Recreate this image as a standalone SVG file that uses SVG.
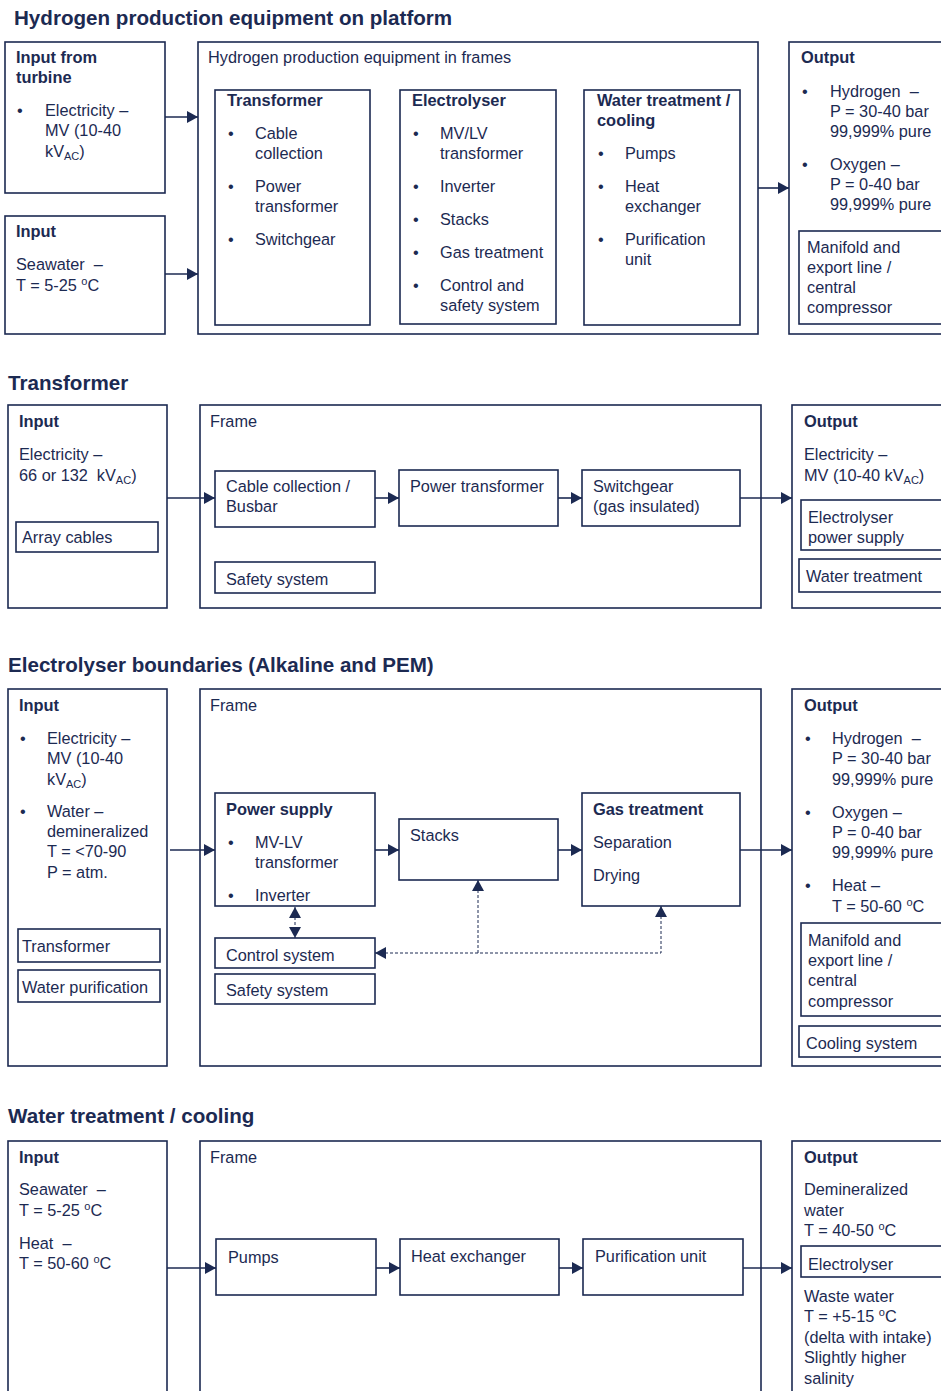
<svg xmlns="http://www.w3.org/2000/svg" width="941" height="1391" viewBox="0 0 941 1391">
<style>
text{font-family:"Liberation Sans",Arial,sans-serif;fill:#1c2a52;font-size:16.3px;white-space:pre}
.t{font-size:20.6px;font-weight:bold}
.b{font-weight:bold;font-size:16.4px}
.box{fill:none;stroke:#1c2a52;stroke-width:1.6}
.c{fill:none;stroke:#1c2a52;stroke-width:1.6}
.d{fill:none;stroke:#1c2a52;stroke-width:1;stroke-dasharray:3 2}
.sub{font-size:11px}
.sup{font-size:11px}
</style>
<defs>
<marker id="ah" markerUnits="userSpaceOnUse" markerWidth="11" markerHeight="12" refX="11" refY="6" orient="auto-start-reverse"><path d="M0,0 L11,6 L0,12 z" fill="#1c2a52"/></marker>
</defs>

<!-- Section 1 -->
<text class="t" x="14" y="25">Hydrogen production equipment on platform</text>
<g id="s1-input-turbine">
<rect class="box" x="5" y="42" width="160" height="151"/>
<text class="b" x="16" y="63">Input from</text>
<text class="b" x="16" y="83">turbine</text>
<text x="17" y="116">•</text>
<text x="45" y="116">Electricity –</text>
<text x="45" y="136">MV (10-40</text>
<text x="45" y="157">kV<tspan class="sub" dy="3">AC</tspan><tspan dy="-3">)</tspan></text>
</g>
<g id="s1-input-seawater">
<rect class="box" x="5" y="216" width="160" height="118"/>
<text class="b" x="16" y="237">Input</text>
<text x="16" y="270">Seawater  –</text>
<text x="16" y="291">T = 5-25 <tspan class="sup" dy="-6">o</tspan><tspan dy="6">C</tspan></text>
</g>
<g id="s1-frame">
<rect class="box" x="198" y="42" width="560" height="292"/>
<text x="208" y="63">Hydrogen production equipment in frames</text>
</g>
<g id="s1-transformer">
<rect class="box" x="215" y="90" width="155" height="235"/>
<text class="b" x="227" y="106">Transformer</text>
<text x="228" y="139">•</text><text x="255" y="139">Cable</text><text x="255" y="159">collection</text>
<text x="228" y="192">•</text><text x="255" y="192">Power</text><text x="255" y="212">transformer</text>
<text x="228" y="245">•</text><text x="255" y="245">Switchgear</text>
</g>
<g id="s1-electrolyser">
<rect class="box" x="400" y="90" width="156" height="234"/>
<text class="b" x="412" y="106">Electrolyser</text>
<text x="413" y="139">•</text><text x="440" y="139">MV/LV</text><text x="440" y="159">transformer</text>
<text x="413" y="192">•</text><text x="440" y="192">Inverter</text>
<text x="413" y="225">•</text><text x="440" y="225">Stacks</text>
<text x="413" y="258">•</text><text x="440" y="258">Gas treatment</text>
<text x="413" y="291">•</text><text x="440" y="291">Control and</text><text x="440" y="311">safety system</text>
</g>
<g id="s1-water">
<rect class="box" x="584" y="90" width="156" height="235"/>
<text class="b" x="597" y="106">Water treatment /</text>
<text class="b" x="597" y="126">cooling</text>
<text x="598" y="159">•</text><text x="625" y="159">Pumps</text>
<text x="598" y="192">•</text><text x="625" y="192">Heat</text><text x="625" y="212">exchanger</text>
<text x="598" y="245">•</text><text x="625" y="245">Purification</text><text x="625" y="265">unit</text>
</g>
<g id="s1-output">
<rect class="box" x="789" y="42" width="160" height="292"/>
<text class="b" x="801" y="63">Output</text>
<text x="802" y="97">•</text><text x="830" y="97">Hydrogen  –</text><text x="830" y="117">P = 30-40 bar</text><text x="830" y="137">99,999% pure</text>
<text x="802" y="170">•</text><text x="830" y="170">Oxygen –</text><text x="830" y="190">P = 0-40 bar</text><text x="830" y="210">99,999% pure</text>
</g>
<g id="s1-manifold">
<rect class="box" x="799" y="231" width="150" height="93"/>
<text x="807" y="253">Manifold and</text><text x="807" y="273">export line /</text><text x="807" y="293">central</text><text x="807" y="313">compressor</text>
</g>

<!-- Section 2 -->
<text class="t" x="8" y="390">Transformer</text>
<g id="s2-input">
<rect class="box" x="8" y="405" width="159" height="203"/>
<text class="b" x="19" y="427">Input</text>
<text x="19" y="460">Electricity –</text>
<text x="19" y="481">66 or 132  kV<tspan class="sub" dy="3">AC</tspan><tspan dy="-3">)</tspan></text>
</g>
<g id="s2-array">
<rect class="box" x="16" y="522" width="142" height="30"/>
<text x="22" y="543">Array cables</text>
</g>
<g id="s2-frame">
<rect class="box" x="200" y="405" width="561" height="203"/>
<text x="210" y="427">Frame</text>
</g>
<g id="s2-cable">
<rect class="box" x="215" y="471" width="160" height="56"/>
<text x="226" y="492">Cable collection /</text><text x="226" y="512">Busbar</text>
</g>
<g id="s2-power">
<rect class="box" x="399" y="470" width="159" height="56"/>
<text x="410" y="492">Power transformer</text>
</g>
<g id="s2-switch">
<rect class="box" x="582" y="470" width="158" height="56"/>
<text x="593" y="492">Switchgear</text><text x="593" y="512">(gas insulated)</text>
</g>
<g id="s2-safety">
<rect class="box" x="215" y="562" width="160" height="31"/>
<text x="226" y="585">Safety system</text>
</g>
<g id="s2-output">
<rect class="box" x="792" y="405" width="160" height="203"/>
<text class="b" x="804" y="427">Output</text>
<text x="804" y="460">Electricity –</text>
<text x="804" y="481">MV (10-40 kV<tspan class="sub" dy="3">AC</tspan><tspan dy="-3">)</tspan></text>
</g>
<g id="s2-elps">
<rect class="box" x="801" y="500" width="150" height="50"/>
<text x="808" y="523">Electrolyser</text><text x="808" y="543">power supply</text>
</g>
<g id="s2-wt">
<rect class="box" x="799" y="559" width="150" height="33"/>
<text x="806" y="582">Water treatment</text>
</g>

<!-- Section 3 -->
<text class="t" x="8" y="672">Electrolyser boundaries (Alkaline and PEM)</text>
<g id="s3-input">
<rect class="box" x="8" y="689" width="159" height="377"/>
<text class="b" x="19" y="711">Input</text>
<text x="20" y="744">•</text><text x="47" y="744">Electricity –</text><text x="47" y="764">MV (10-40</text>
<text x="47" y="785">kV<tspan class="sub" dy="3">AC</tspan><tspan dy="-3">)</tspan></text>
<text x="20" y="817">•</text><text x="47" y="817">Water –</text><text x="47" y="837">demineralized</text><text x="47" y="857">T = &lt;70-90</text><text x="47" y="878">P = atm.</text>
</g>
<g id="s3-transformer">
<rect class="box" x="18" y="929" width="142" height="33"/>
<text x="22" y="952">Transformer</text>
</g>
<g id="s3-waterpur">
<rect class="box" x="18" y="970" width="142" height="32"/>
<text x="22" y="993">Water purification</text>
</g>
<g id="s3-frame">
<rect class="box" x="200" y="689" width="561" height="377"/>
<text x="210" y="711">Frame</text>
</g>
<g id="s3-power">
<rect class="box" x="215" y="793" width="160" height="113"/>
<text class="b" x="226" y="815">Power supply</text>
<text x="228" y="848">•</text><text x="255" y="848">MV-LV</text><text x="255" y="868">transformer</text>
<text x="228" y="901">•</text><text x="255" y="901">Inverter</text>
</g>
<g id="s3-stacks">
<rect class="box" x="399" y="819" width="159" height="61"/>
<text x="410" y="841">Stacks</text>
</g>
<g id="s3-gas">
<rect class="box" x="582" y="793" width="158" height="113"/>
<text class="b" x="593" y="815">Gas treatment</text>
<text x="593" y="848">Separation</text>
<text x="593" y="881">Drying</text>
</g>
<g id="s3-control">
<rect class="box" x="215" y="938" width="160" height="30"/>
<text x="226" y="961">Control system</text>
</g>
<g id="s3-safety">
<rect class="box" x="215" y="974" width="160" height="30"/>
<text x="226" y="996">Safety system</text>
</g>
<g id="s3-output">
<rect class="box" x="792" y="689" width="160" height="377"/>
<text class="b" x="804" y="711">Output</text>
<text x="805" y="744">•</text><text x="832" y="744">Hydrogen  –</text><text x="832" y="764">P = 30-40 bar</text><text x="832" y="785">99,999% pure</text>
<text x="805" y="818">•</text><text x="832" y="818">Oxygen –</text><text x="832" y="838">P = 0-40 bar</text><text x="832" y="858">99,999% pure</text>
<text x="805" y="891">•</text><text x="832" y="891">Heat –</text>
<text x="832" y="912">T = 50-60 <tspan class="sup" dy="-6">o</tspan><tspan dy="6">C</tspan></text>
</g>
<g id="s3-manifold">
<rect class="box" x="801" y="923" width="150" height="93"/>
<text x="808" y="946">Manifold and</text><text x="808" y="966">export line /</text><text x="808" y="986">central</text><text x="808" y="1007">compressor</text>
</g>
<g id="s3-cooling">
<rect class="box" x="799" y="1026" width="150" height="31"/>
<text x="806" y="1049">Cooling system</text>
</g>

<!-- Section 4 -->
<text class="t" x="8" y="1123">Water treatment / cooling</text>
<g id="s4-input">
<rect class="box" x="8" y="1141" width="159" height="270"/>
<text class="b" x="19" y="1163">Input</text>
<text x="19" y="1195">Seawater  –</text>
<text x="19" y="1216">T = 5-25 <tspan class="sup" dy="-6">o</tspan><tspan dy="6">C</tspan></text>
<text x="19" y="1249">Heat  –</text>
<text x="19" y="1269">T = 50-60 <tspan class="sup" dy="-6">o</tspan><tspan dy="6">C</tspan></text>
</g>
<g id="s4-frame">
<rect class="box" x="200" y="1141" width="561" height="270"/>
<text x="210" y="1163">Frame</text>
</g>
<g id="s4-pumps">
<rect class="box" x="216" y="1239" width="160" height="56"/>
<text x="228" y="1263">Pumps</text>
</g>
<g id="s4-heat">
<rect class="box" x="400" y="1239" width="159" height="56"/>
<text x="411" y="1262">Heat exchanger</text>
</g>
<g id="s4-pur">
<rect class="box" x="583" y="1239" width="160" height="56"/>
<text x="595" y="1262">Purification unit</text>
</g>
<g id="s4-output">
<rect class="box" x="792" y="1141" width="160" height="270"/>
<text class="b" x="804" y="1163">Output</text>
<text x="804" y="1195">Demineralized</text><text x="804" y="1216">water</text>
<text x="804" y="1236">T = 40-50 <tspan class="sup" dy="-6">o</tspan><tspan dy="6">C</tspan></text>
<text x="804" y="1302">Waste water</text>
<text x="804" y="1322">T = +5-15 <tspan class="sup" dy="-6">o</tspan><tspan dy="6">C</tspan></text>
<text x="804" y="1343">(delta with intake)</text>
<text x="804" y="1363">Slightly higher</text>
<text x="804" y="1384">salinity</text>
</g>
<g id="s4-electrolyser">
<rect class="box" x="801" y="1246" width="150" height="31"/>
<text x="808" y="1270">Electrolyser</text>
</g>

<g id="connectors">
<line class="c" x1="165" y1="117" x2="198" y2="117" marker-end="url(#ah)"/>
<line class="c" x1="165" y1="274" x2="198" y2="274" marker-end="url(#ah)"/>
<line class="c" x1="758" y1="188" x2="789" y2="188" marker-end="url(#ah)"/>

<line class="c" x1="167" y1="498" x2="215" y2="498" marker-end="url(#ah)"/>
<line class="c" x1="375" y1="498" x2="399" y2="498" marker-end="url(#ah)"/>
<line class="c" x1="558" y1="498" x2="582" y2="498" marker-end="url(#ah)"/>
<line class="c" x1="740" y1="498" x2="792" y2="498" marker-end="url(#ah)"/>

<line class="c" x1="170" y1="850" x2="215" y2="850" marker-end="url(#ah)"/>
<line class="c" x1="375" y1="850" x2="399" y2="850" marker-end="url(#ah)"/>
<line class="c" x1="558" y1="850" x2="582" y2="850" marker-end="url(#ah)"/>
<line class="c" x1="740" y1="850" x2="792" y2="850" marker-end="url(#ah)"/>
<line class="d" x1="295" y1="907" x2="295" y2="938" marker-start="url(#ah)" marker-end="url(#ah)"/>
<line class="d" x1="478" y1="953" x2="478" y2="880" marker-end="url(#ah)"/>
<polyline class="d" points="661,906 661,953 375,953" marker-start="url(#ah)" marker-end="url(#ah)"/>

<line class="c" x1="167" y1="1268" x2="216" y2="1268" marker-end="url(#ah)"/>
<line class="c" x1="376" y1="1268" x2="400" y2="1268" marker-end="url(#ah)"/>
<line class="c" x1="559" y1="1268" x2="583" y2="1268" marker-end="url(#ah)"/>
<line class="c" x1="743" y1="1268" x2="792" y2="1268" marker-end="url(#ah)"/>
</g>
</svg>
